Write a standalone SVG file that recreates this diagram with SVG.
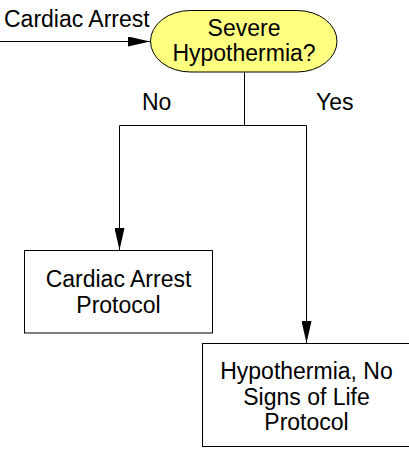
<svg xmlns="http://www.w3.org/2000/svg" width="409" height="455" viewBox="0 0 409 455">
<defs>
<marker id="arr" viewBox="0 0 22 10" refX="22" refY="5" markerWidth="22" markerHeight="10" markerUnits="userSpaceOnUse" orient="auto">
<path d="M0,0 L22,5 L0,10 Z" fill="#000"/>
</marker>
<style>
text{font-family:"Liberation Sans",Arial,sans-serif;font-size:23px;fill:#000}
.c{text-anchor:middle}
.box{fill:#fff;stroke:#000;stroke-width:1}
.ln{fill:none;stroke:#000;stroke-width:1}
</style>
</defs>
<rect width="409" height="455" fill="#fff"/>
<g id="connectors">
<path class="ln" d="M0,41.5 H150" marker-end="url(#arr)"/>
<path class="ln" d="M244.5,72 V125.5"/>
<path class="ln" d="M119.5,125.5 H306.5"/>
<path class="ln" d="M119.5,125.5 V250" marker-end="url(#arr)"/>
<path class="ln" d="M306.5,125.5 V343" marker-end="url(#arr)"/>
<text x="4" y="27">Cardiac Arrest</text>
<text x="142" y="109.5">No</text>
<text x="316" y="109.5">Yes</text>
</g>
<g id="decision">
<rect x="150.5" y="10.5" width="186.5" height="61.5" rx="40" ry="30.75" fill="#ffff80" stroke="#000" stroke-width="1"/>
<text class="c" x="244" y="36">Severe</text>
<text class="c" x="244" y="61">Hypothermia?</text>
</g>
<g id="cardiac-arrest-protocol">
<rect class="box" x="24.5" y="250.5" width="188" height="82.5"/>
<text class="c" x="118.5" y="287">Cardiac Arrest</text>
<text class="c" x="118.5" y="312.5">Protocol</text>
</g>
<g id="hypothermia-protocol">
<rect class="box" x="202.5" y="343.5" width="212" height="103"/>
<text class="c" x="306.5" y="379">Hypothermia, No</text>
<text class="c" x="306.5" y="404.5">Signs of Life</text>
<text class="c" x="306.5" y="430">Protocol</text>
</g>
</svg>
